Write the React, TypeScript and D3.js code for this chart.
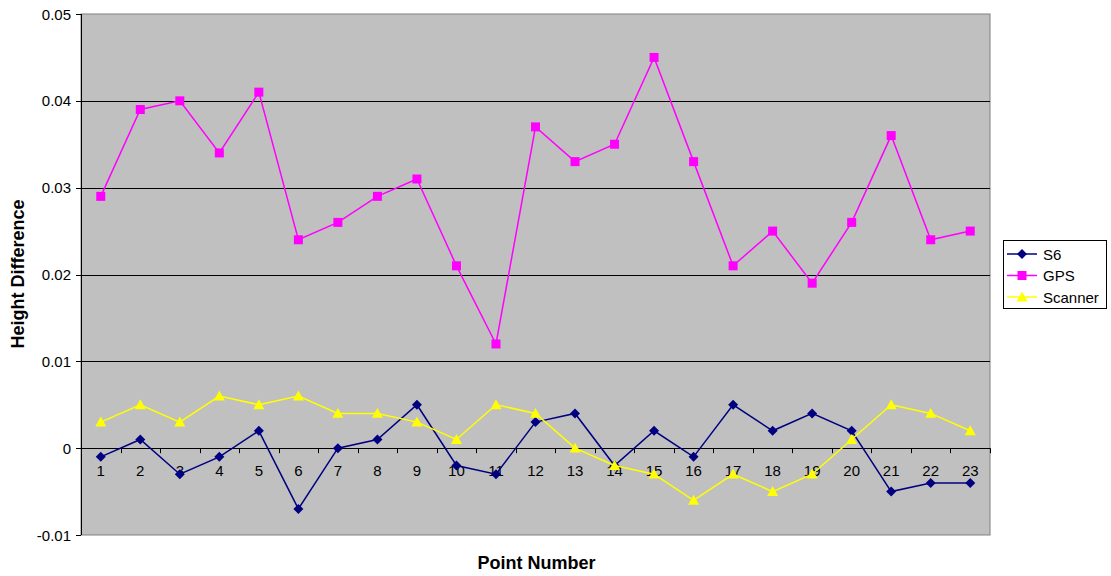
import React from "react";
import * as d3 from "d3";

const categories = ["1","2","3","4","5","6","7","8","9","10","11","12","13","14","15","16","17","18","19","20","21","22","23"];
const s6 = [-0.001, 0.001, -0.003, -0.001, 0.002, -0.007, 0, 0.001, 0.005, -0.002, -0.003, 0.003, 0.004, -0.002, 0.002, -0.001, 0.005, 0.002, 0.004, 0.002, -0.005, -0.004, -0.004];
const gps = [0.029, 0.039, 0.040, 0.034, 0.041, 0.024, 0.026, 0.029, 0.031, 0.021, 0.012, 0.037, 0.033, 0.035, 0.045, 0.033, 0.021, 0.025, 0.019, 0.026, 0.036, 0.024, 0.025];
const scanner = [0.003, 0.005, 0.003, 0.006, 0.005, 0.006, 0.004, 0.004, 0.003, 0.001, 0.005, 0.004, 0, -0.002, -0.003, -0.006, -0.003, -0.005, -0.003, 0.001, 0.005, 0.004, 0.002];
const yTicks = [-0.01, 0, 0.01, 0.02, 0.03, 0.04, 0.05];
const yTickLabels = ["-0.01", "0", "0.01", "0.02", "0.03", "0.04", "0.05"];

const seriesList = [
  { name: "S6", values: s6, color: "#000080", shape: "diamond" },
  { name: "GPS", values: gps, color: "#ff00ff", shape: "square" },
  { name: "Scanner", values: scanner, color: "#ffff00", shape: "triangle" },
];

const font = "'Liberation Sans', Arial, sans-serif";

function Marker({ x, y, shape, color }: { x: number; y: number; shape: string; color: string }) {
  if (shape === "diamond") {
    const r = 5;
    return <path d={`M${x},${y - r}L${x + r},${y}L${x},${y + r}L${x - r},${y}Z`} fill={color} />;
  }
  if (shape === "square") {
    const r = 4.5;
    return <rect x={x - r} y={y - r} width={2 * r} height={2 * r} fill={color} />;
  }
  const r = 5.5;
  return <path d={`M${x},${y - r}L${x + r},${y + r * 0.8}L${x - r},${y + r * 0.8}Z`} fill={color} />;
}

export default function App() {
  const W = 1111, H = 576;
  const left = 81, right = 990, top = 14, bottom = 535;
  const x = d3.scaleBand<string>().domain(categories).range([left, right]);
  const y = d3.scaleLinear().domain([-0.01, 0.05]).range([bottom, top]);
  const cx = (c: string) => (x(c) as number) + x.bandwidth() / 2;
  const y0 = y(0);
  const line = d3.line<number>().x((_, i) => cx(categories[i])).y((v) => y(v));

  return (
    <svg width={W} height={H} style={{ position: "absolute", left: 0, top: 0 }}>
      <rect x={0} y={0} width={W} height={H} fill="#fff" />
      <rect x={left} y={top} width={right - left} height={bottom - top} fill="#c0c0c0" stroke="#808080" strokeWidth={1} />
      {yTicks.map((t) => (
        <line key={"g" + t} x1={left} x2={right} y1={Math.round(y(t)) + 0.5} y2={Math.round(y(t)) + 0.5} stroke="#000" strokeWidth={1} opacity={t === -0.01 || t === 0.05 ? 0 : 1} />
      ))}
      {/* y axis */}
      <line x1={left + 0.5} x2={left + 0.5} y1={top} y2={bottom} stroke="#000" />
      {yTicks.map((t, i) => (
        <g key={"yt" + t}>
          <line x1={left - 5} x2={left} y1={Math.round(y(t)) + 0.5} y2={Math.round(y(t)) + 0.5} stroke="#000" />
          <text x={left - 10} y={y(t) + 5.5} textAnchor="end" fontFamily={font} fontSize={15} fill="#000">{yTickLabels[i]}</text>
        </g>
      ))}
      {/* x axis at 0 */}
      <line x1={left} x2={right} y1={Math.round(y0) + 0.5} y2={Math.round(y0) + 0.5} stroke="#000" />
      {categories.map((c) => (
        <line key={"xt" + c} x1={Math.round((x(c) as number) + x.bandwidth()) + 0.5} x2={Math.round((x(c) as number) + x.bandwidth()) + 0.5} y1={y0} y2={y0 + 5} stroke="#000" />
      ))}
      {categories.map((c) => (
        <text key={"xl" + c} x={cx(c)} y={y0 + 28} textAnchor="middle" fontFamily={font} fontSize={15} fill="#000">{c}</text>
      ))}
      {seriesList.map((s) => (
        <g key={s.name}>
          <path d={line(s.values) as string} fill="none" stroke={s.color} strokeWidth={1.5} />
          {s.values.map((v, i) => (
            <Marker key={i} x={cx(categories[i])} y={y(v)} shape={s.shape} color={s.color} />
          ))}
        </g>
      ))}
      <text transform={`translate(24,274) rotate(-90)`} textAnchor="middle" fontFamily={font} fontSize={18} fontWeight="bold">Height Difference</text>
      <text x={536.5} y={569} textAnchor="middle" fontFamily={font} fontSize={18} fontWeight="bold">Point Number</text>
      {/* legend */}
      <rect x={1003.5} y={240.5} width={103} height={68} fill="#fff" stroke="#000" />
      {seriesList.map((s, i) => {
        const ly = 254 + i * 21.5;
        return (
          <g key={"lg" + s.name}>
            <line x1={1007} x2={1037} y1={ly} y2={ly} stroke={s.color} strokeWidth={1.5} />
            <Marker x={1022} y={ly} shape={s.shape} color={s.color} />
            <text x={1043} y={ly + 5.5} fontFamily={font} fontSize={15} fill="#000">{s.name}</text>
          </g>
        );
      })}
    </svg>
  );
}
